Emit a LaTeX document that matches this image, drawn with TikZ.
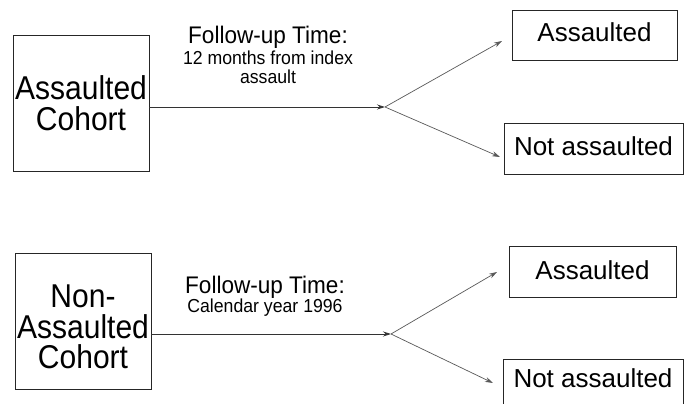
\documentclass[tikz,border=0pt]{standalone}
\usepackage{fontspec}
\setmainfont{Liberation Sans}
\newfontfamily\condfont[FakeStretch=0.91]{Liberation Sans}
\newfontfamily\semicond[FakeStretch=0.94]{Liberation Sans}
\usetikzlibrary{arrows.meta}
\tikzset{
  box/.style={draw=black!85, line width=0.9pt, rectangle, inner sep=0pt},
  cohort/.style={box, minimum width=136pt, minimum height=136pt},
  outcome/.style={box},
  otext/.style={inner sep=0pt, font=\fontsize{26}{28}\selectfont},
  big/.style={align=center, font=\condfont\fontsize{33}{30.5}\selectfont, inner sep=0pt},
  title/.style={font=\semicond\fontsize{24}{25}\selectfont, inner sep=0pt},
  sub/.style={font=\semicond\fontsize{18.8}{19}\selectfont, inner sep=0pt},
  conn/.style={draw=black!80, line width=0.8pt, -{Stealth[length=8pt,width=5pt]}},
  branch/.style={draw=black!65, line width=0.7pt, -{Stealth[length=8pt,width=5pt]}}
}
\begin{document}
\begin{tikzpicture}[x=1pt,y=-1pt]
\useasboundingbox (0,0) rectangle (686,404);
\clip (0,0) rectangle (686,404);
\fill[white] (0,0) rectangle (686,404);
% top row
\node[cohort] (c1) at (81,103) {};
\node[big] (c1t) at (81,103) {Assaulted\\Cohort};
\node[title] (l1a) at (268,37) {Follow-up Time:};
\node[sub] (l1b) at (268,58) {12 months from index};
\node[sub] (l1c) at (268,77) {assault};
\coordinate (b1) at (385,107);
\node[outcome, minimum width=165pt, minimum height=50pt] (a1) at (594.5,35) {};
\node[otext] (a1t) at (594.5,32.5) {Assaulted};
\node[outcome, minimum width=179pt, minimum height=51pt] (n1) at (593.5,148.5) {};
\node[otext] (n1t) at (593.5,146) {Not assaulted};
\coordinate (t1a) at (502,41);
\coordinate (t1n) at (500,157);
\draw[conn] (c1.east |- b1) -- (b1);
\draw[branch] (b1) -- (t1a);
\draw[branch] (b1) -- (t1n);
% bottom row
\node[cohort] (c2) at (83,321) {};
\node[big] (c2t) at (83,327) {Non-\\Assaulted\\Cohort};
\node[title] (l2a) at (265,287) {Follow-up Time:};
\node[sub] (l2b) at (265,308) {Calendar year 1996};
\coordinate (b2) at (391,334);
\node[outcome, minimum width=167pt, minimum height=51pt] (a2) at (592.5,271.5) {};
\node[otext] (a2t) at (592.5,270) {Assaulted};
\node[outcome, minimum width=180pt, minimum height=51pt] (n2) at (593,384.5) {};
\node[otext] (n2t) at (593,378) {Not assaulted};
\coordinate (t2a) at (497,272);
\coordinate (t2n) at (493,383);
\draw[conn] (c2.east |- b2) -- (b2);
\draw[branch] (b2) -- (t2a);
\draw[branch] (b2) -- (t2n);
\end{tikzpicture}
\end{document}
